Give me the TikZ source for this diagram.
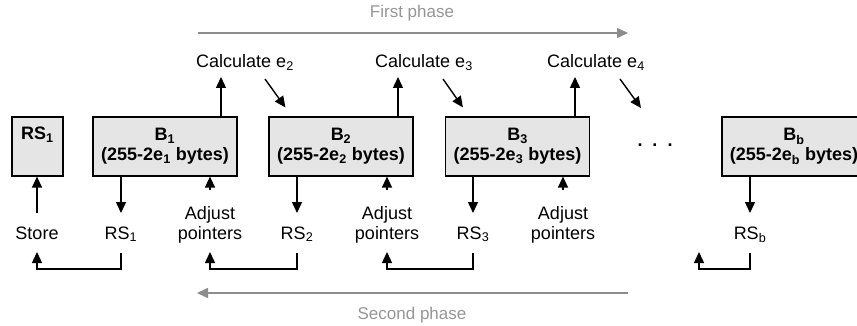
\documentclass[tikz,border=0pt]{standalone}
\usepackage{fontspec}
\setmainfont{Liberation Sans}
\usetikzlibrary{arrows.meta}
\definecolor{boxfill}{RGB}{229,229,229}
\definecolor{phasearrow}{RGB}{140,140,140}
\definecolor{phasetext}{RGB}{150,150,150}
\begin{document}
\begin{tikzpicture}[x=1pt,y=-1pt,
  lbl/.style={font=\fontsize{18}{20}\selectfont, align=center, inner sep=0pt, anchor=base},
  blk/.style={draw, line width=1.2pt, fill=boxfill, minimum width=144pt, minimum height=59pt,
              font=\bfseries\fontsize{18}{20}\selectfont, align=center, inner sep=0pt},
  rsblk/.style={blk, minimum width=51pt},
  arr/.style={line width=1.4pt, -{Triangle[length=11pt,width=10pt]}},
  phase/.style={line width=1.6pt, draw=phasearrow, -{Triangle[length=11pt,width=10pt]}},
  phaselbl/.style={font=\fontsize{17}{20}\selectfont, text=phasetext, inner sep=0pt, anchor=base}
]
\clip (0,0) rectangle (857,326);
\fill[white] (0,0) rectangle (857,326);

% top row boxes
\node[rsblk] (rs) at (37.5,146.5) {RS\textsubscript{1}\\[0pt]\strut};
\node[blk] (B1) at (165,146.5) {B\textsubscript{1}\\(255-2e\textsubscript{1} bytes)};
\node[blk] (B2) at (341,146.5) {B\textsubscript{2}\\(255-2e\textsubscript{2} bytes)};
\node[blk] (B3) at (517.5,146.5) {B\textsubscript{3}\\(255-2e\textsubscript{3} bytes)};
\node[blk] (Bb) at (794,146.5) {B\textsubscript{b}\\(255-2e\textsubscript{b} bytes)};
\node[font=\bfseries\fontsize{18}{20}\selectfont, inner sep=0pt] (dots) at (655,145) {.\ \ .\ \ .};

% calculate labels
\node[lbl] (c2) at (245,68) {Calculate e\textsubscript{2}};
\node[lbl] (c3) at (424,68) {Calculate e\textsubscript{3}};
\node[lbl] (c4) at (596,68) {Calculate e\textsubscript{4}};

% phase arrows
\coordinate (f1) at (198,33);
\coordinate (f2) at (628,33);
\draw[phase] (f1) -- (f2);
\node[phaselbl] (fp) at (412,18) {First phase};
\coordinate (s1) at (628,293);
\coordinate (s2) at (197,293);
\draw[phase] (s1) -- (s2);
\node[phaselbl] (sp) at (412,319) {Second phase};

% up arrows to calculate
\draw[arr] (B1.north -| 221,0) -- (221,77);
\draw[arr] (B2.north -| 398,0) -- (398,77);
\draw[arr] (B3.north -| 575,0) -- (575,77);
% diagonal arrows
\draw[arr] (265,79) -- ([shift={(17,-9)}]B2.north west);
\draw[arr] (443,79) -- ([shift={(18,-9)}]B3.north west);
\coordinate (e4end) at (641,108);
\draw[arr] (620,79) -- (e4end);

% bottom labels
\node[lbl] (store) at (37,239) {Store};
\node[lbl] (rs1) at (121,239) {RS\textsubscript{1}};
\node[lbl] (a1) at (210,239) {Adjust\\pointers};
\node[lbl] (rs2) at (297,239) {RS\textsubscript{2}};
\node[lbl] (a2) at (387,239) {Adjust\\pointers};
\node[lbl] (rs3) at (473,239) {RS\textsubscript{3}};
\node[lbl] (a3) at (563,239) {Adjust\\pointers};
\node[lbl] (rsb) at (750,239) {RS\textsubscript{b}};

% vertical arrows
\draw[arr] (store.base |- 0,213) -- (store.base |- rs.south);
\draw[arr] (B1.south -| rs1.base) -- (rs1.base |- 0,213);
\draw[arr] (a1.base |- 0,190) -- (a1.base |- B1.south);
\draw[arr] (B2.south -| rs2.base) -- (rs2.base |- 0,213);
\draw[arr] (a2.base |- 0,190) -- (a2.base |- B2.south);
\draw[arr] (B3.south -| rs3.base) -- (rs3.base |- 0,213);
\draw[arr] (a3.base |- 0,190) -- (a3.base |- B3.south);
\draw[arr] (Bb.south -| rsb.base) -- (rsb.base |- 0,213);

% return connectors
\draw[arr] (rs1.base |- 0,253) -- (rs1.base |- 0,269) -| (store.base |- 0,252);
\draw[arr] (rs2.base |- 0,253) -- (rs2.base |- 0,269) -| (a1.base |- 0,252);
\draw[arr] (rs3.base |- 0,253) -- (rs3.base |- 0,269) -| (a2.base |- 0,252);
\coordinate (lost) at (699,252);
\draw[arr] (rsb.base |- 0,253) -- (rsb.base |- 0,269) -| (lost);
\end{tikzpicture}
\end{document}
